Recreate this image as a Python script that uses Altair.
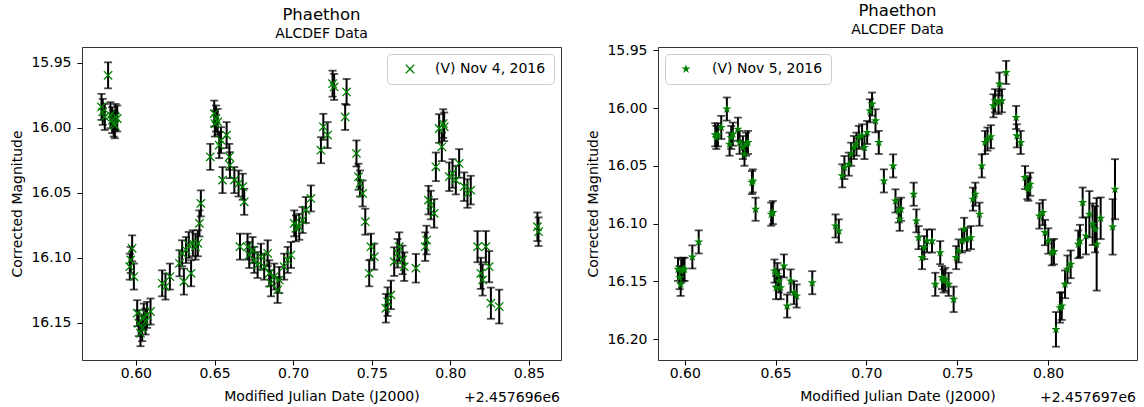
import altair as alt
import pandas as pd

# ---------------- data ----------------
# Left panel: Nov 4, 2016  (JD - 2457696)
jd_nov4 = [0.5823, 0.5781, 0.5789, 0.5802, 0.5838, 0.5849, 0.5859, 0.5870, 0.5881, 0.5866,
           0.5976, 0.5961, 0.5987, 0.5967, 0.6008, 0.6018, 0.6029, 0.6050, 0.6061, 0.6071,
           0.6093, 0.6040, 0.6167, 0.6188, 0.6216, 0.6277, 0.6294, 0.6305, 0.6319, 0.6336,
           0.6351, 0.6362, 0.6379, 0.6394, 0.6404, 0.6413, 0.6473, 0.6498, 0.6509, 0.6520,
           0.6502, 0.6530, 0.6541, 0.6551, 0.6577, 0.6594, 0.6598, 0.6626, 0.6653, 0.6679,
           0.6689, 0.6662, 0.6710, 0.6721, 0.6742, 0.6753, 0.6774, 0.6795, 0.6816, 0.6838,
           0.6848, 0.6859, 0.6880, 0.6901, 0.6912, 0.6943, 0.6965, 0.6986, 0.7007, 0.7018,
           0.7039, 0.7060, 0.7081, 0.7113, 0.7177, 0.7192, 0.7219, 0.7251, 0.7261, 0.7340,
           0.7331, 0.7403, 0.7416, 0.7425, 0.7442, 0.7459, 0.7495, 0.7516, 0.7484, 0.7590,
           0.7601, 0.7622, 0.7643, 0.7664, 0.7675, 0.7696, 0.7707, 0.7781, 0.7840, 0.7849,
           0.7861, 0.7876, 0.7897, 0.7908, 0.7929, 0.7946, 0.7955, 0.7961, 0.7993, 0.8014,
           0.8035, 0.8056, 0.8088, 0.8109, 0.8130, 0.8173, 0.8226, 0.8247, 0.8194, 0.8205,
           0.8258, 0.8311, 0.8554, 0.8561]
mag_nov4 = [15.9595, 15.9838, 15.9876, 15.9915, 15.9902, 15.9940, 15.9966, 15.9915, 15.9927, 15.9979,
            16.0926, 16.1067, 16.1143, 16.1015, 16.1425, 16.1502, 16.1579, 16.1451, 16.1489, 16.1438,
            16.1412, 16.1540, 16.1195, 16.1220, 16.1143, 16.1041, 16.0964, 16.1182, 16.0939, 16.0900,
            16.1118, 16.0887, 16.0913, 16.0887, 16.0734, 16.0580, 16.0222, 15.9889, 15.9927, 15.9953,
            15.9966, 16.0132, 16.0094, 16.0401, 16.0055, 16.0222, 16.0286, 16.0401, 16.0427, 16.0452,
            16.0568, 16.0913, 16.0913, 16.0977, 16.0939, 16.1015, 16.1054, 16.0990, 16.1067, 16.0964,
            16.1118, 16.1195, 16.1143, 16.1246, 16.1169, 16.1067, 16.1015, 16.0977, 16.0734, 16.0772,
            16.0760, 16.0708, 16.0631, 16.0542, 16.0171, 15.9991, 16.0055, 15.9659, 15.9684, 15.9723,
            15.9915, 16.0196, 16.0375, 16.0427, 16.0504, 16.0721, 16.0913, 16.0990, 16.1118, 16.1387,
            16.1336, 16.1284, 16.1028, 16.0964, 16.0913, 16.1015, 16.1067, 16.1079, 16.0913, 16.0862,
            16.0555, 16.0593, 16.0657, 16.0299, 16.0004, 16.0145, 15.9966, 15.9991, 16.0375, 16.0350,
            16.0401, 16.0273, 16.0452, 16.0504, 16.0478, 16.0913, 16.0913, 16.1067, 16.1118, 16.1169,
            16.1348, 16.1374, 16.0760, 16.0798]
err_nov4 = [0.010, 0.010, 0.010, 0.010, 0.010, 0.010, 0.010, 0.010, 0.010, 0.010,
            0.010, 0.010, 0.010, 0.010, 0.010, 0.010, 0.010, 0.010, 0.010, 0.010,
            0.010, 0.010, 0.010, 0.010, 0.010, 0.010, 0.010, 0.010, 0.010, 0.010,
            0.010, 0.010, 0.010, 0.010, 0.010, 0.010, 0.010, 0.010, 0.010, 0.010,
            0.010, 0.010, 0.010, 0.010, 0.010, 0.010, 0.010, 0.010, 0.010, 0.010,
            0.010, 0.010, 0.010, 0.010, 0.010, 0.010, 0.010, 0.010, 0.010, 0.010,
            0.010, 0.010, 0.010, 0.010, 0.010, 0.010, 0.010, 0.010, 0.010, 0.010,
            0.010, 0.010, 0.010, 0.010, 0.010, 0.010, 0.010, 0.010, 0.010, 0.010,
            0.010, 0.010, 0.010, 0.010, 0.010, 0.010, 0.010, 0.010, 0.010, 0.011,
            0.011, 0.011, 0.011, 0.011, 0.011, 0.011, 0.011, 0.011, 0.011, 0.011,
            0.011, 0.011, 0.011, 0.011, 0.011, 0.011, 0.011, 0.011, 0.011, 0.011,
            0.011, 0.011, 0.011, 0.011, 0.011, 0.012, 0.012, 0.012, 0.012, 0.012,
            0.012, 0.013, 0.011, 0.011]

# Right panel: Nov 5, 2016  (JD - 2457697)
jd_nov5 = [0.5963, 0.5972, 0.5981, 0.5990, 0.5999, 0.5978, 0.6042, 0.6077, 0.6168, 0.6174,
           0.6183, 0.6201, 0.6232, 0.6247, 0.6256, 0.6265, 0.6293, 0.6302, 0.6320, 0.6329,
           0.6338, 0.6348, 0.6370, 0.6375, 0.6390, 0.6476, 0.6485, 0.6494, 0.6503, 0.6510,
           0.6518, 0.6528, 0.6546, 0.6564, 0.6583, 0.6601, 0.6616, 0.6702, 0.6830, 0.6848,
           0.6867, 0.6879, 0.6903, 0.6916, 0.6931, 0.6945, 0.6958, 0.6976, 0.6989, 0.7004,
           0.7019, 0.7031, 0.7050, 0.7068, 0.7096, 0.7147, 0.7160, 0.7177, 0.7190, 0.7183,
           0.7260, 0.7275, 0.7287, 0.7306, 0.7318, 0.7333, 0.7361, 0.7379, 0.7406, 0.7416,
           0.7425, 0.7434, 0.7452, 0.7480, 0.7494, 0.7507, 0.7526, 0.7538, 0.7553, 0.7575,
           0.7586, 0.7599, 0.7622, 0.7635, 0.7653, 0.7666, 0.7685, 0.7699, 0.7708, 0.7727,
           0.7732, 0.7745, 0.7769, 0.7824, 0.7828, 0.7849, 0.7873, 0.7886, 0.7901, 0.7891,
           0.7952, 0.7970, 0.7983, 0.8001, 0.8020, 0.8032, 0.8043, 0.8065, 0.8075, 0.8093,
           0.8106, 0.8124, 0.8166, 0.8175, 0.8190, 0.8208, 0.8227, 0.8245, 0.8258, 0.8267,
           0.8289, 0.8355, 0.8368]
mag_nov5 = [16.1395, 16.1467, 16.1410, 16.1395, 16.1395, 16.1525, 16.1288, 16.1158, 16.0231, 16.0254,
            16.0231, 16.0167, 16.0008, 16.0312, 16.0254, 16.0225, 16.0182, 16.0297, 16.0341, 16.0399,
            16.0312, 16.0297, 16.0644, 16.0630, 16.0875, 16.0918, 16.0904, 16.1410, 16.1554, 16.1440,
            16.1496, 16.1554, 16.1366, 16.1713, 16.1496, 16.1597, 16.1626, 16.1511, 16.1020, 16.1063,
            16.0586, 16.0514, 16.0485, 16.0399, 16.0341, 16.0312, 16.0254, 16.0240, 16.0341, 16.0211,
            16.0023, 15.9965, 16.0110, 16.0297, 16.0630, 16.0500, 16.0803, 16.0890, 16.0875, 16.0962,
            16.0745, 16.0976, 16.1121, 16.1294, 16.1207, 16.1150, 16.1150, 16.1525, 16.1251, 16.1467,
            16.1496, 16.1482, 16.1525, 16.1655, 16.1294, 16.1236, 16.1150, 16.1049, 16.1135, 16.1121,
            16.0788, 16.0745, 16.0918, 16.0500, 16.0297, 16.0268, 16.0248, 15.9980, 15.9936, 15.9951,
            15.9792, 15.9936, 15.9691, 16.0081, 16.0240, 16.0297, 16.0601, 16.0688, 16.0659, 16.0702,
            16.0933, 16.0904, 16.1077, 16.1150, 16.1251, 16.1242, 16.1915, 16.1727, 16.1713, 16.1525,
            16.1395, 16.1352, 16.1179, 16.1150, 16.0817, 16.1106, 16.0918, 16.1005, 16.1049, 16.1179,
            16.0953, 16.1028, 16.0702]
err_nov5 = [0.010, 0.010, 0.010, 0.010, 0.010, 0.010, 0.010, 0.010, 0.010, 0.010,
            0.010, 0.010, 0.010, 0.010, 0.010, 0.010, 0.010, 0.010, 0.010, 0.010,
            0.010, 0.010, 0.010, 0.010, 0.010, 0.010, 0.010, 0.010, 0.010, 0.010,
            0.010, 0.010, 0.010, 0.010, 0.010, 0.010, 0.010, 0.010, 0.010, 0.010,
            0.010, 0.010, 0.010, 0.010, 0.010, 0.010, 0.010, 0.010, 0.010, 0.010,
            0.010, 0.010, 0.010, 0.010, 0.010, 0.010, 0.010, 0.010, 0.010, 0.010,
            0.010, 0.010, 0.010, 0.010, 0.010, 0.010, 0.010, 0.010, 0.010, 0.010,
            0.010, 0.010, 0.010, 0.011, 0.010, 0.010, 0.010, 0.010, 0.010, 0.010,
            0.010, 0.010, 0.010, 0.010, 0.010, 0.010, 0.010, 0.010, 0.010, 0.010,
            0.010, 0.010, 0.010, 0.010, 0.010, 0.010, 0.010, 0.010, 0.010, 0.010,
            0.011, 0.011, 0.011, 0.011, 0.011, 0.011, 0.015, 0.013, 0.012, 0.012,
            0.012, 0.012, 0.012, 0.014, 0.013, 0.016, 0.020, 0.018, 0.020, 0.040,
            0.018, 0.024, 0.026]

LABEL_L = "(V) Nov 4, 2016"
LABEL_R = "(V) Nov 5, 2016"
OFFSET_L = "+2.457696e6"
OFFSET_R = "+2.457697e6"

X_PATH = "M-1,-1L1,1M-1,1L1,-1"
STAR_PATH = ("M0,-1L0.2245,-0.309L0.951,-0.309L0.363,0.118L0.588,0.809L0,0.382"
             "L-0.588,0.809L-0.363,0.118L-0.951,-0.309L-0.2245,-0.309Z")

W, H = 479, 313
GREEN = "#008000"
FONT = "DejaVu Sans"
FS = 14


def panel(jd, mag, err, label, offset_text, xdom, xticks, ydom, yticks,
          shape, filled, msize, legend_orient, sym_off, lab_off):
    df = pd.DataFrame({"jd": jd, "mag": mag, "err": err})
    df["lo"] = df["mag"] - df["err"]
    df["hi"] = df["mag"] + df["err"]
    df["series"] = label
    base = alt.Chart(df)

    xenc = alt.X("jd:Q", title="Modified Julian Date (J2000)",
                 scale=alt.Scale(domain=xdom, nice=False, zero=False),
                 axis=alt.Axis(values=xticks, format=".2f", labelPadding=1,
                               titlePadding=9))

    def yenc(field):
        return alt.Y(field, title="Corrected Magnitude",
                     scale=alt.Scale(domain=ydom, reverse=True, nice=False, zero=False),
                     axis=alt.Axis(values=yticks, format=".2f", labelPadding=6,
                                   titlePadding=6))

    bars = base.mark_rule(color="black", strokeWidth=2).encode(
        x=xenc, y=yenc("lo:Q"), y2="hi:Q")
    cap_lo = base.mark_tick(color="black", thickness=1.8, size=8, orient="horizontal").encode(
        x=xenc, y=yenc("lo:Q"))
    cap_hi = base.mark_tick(color="black", thickness=1.8, size=8, orient="horizontal").encode(
        x=xenc, y=yenc("hi:Q"))
    pts = base.mark_point(shape=shape, size=msize, filled=filled, strokeWidth=1.3,
                          opacity=1).encode(
        x=xenc, y=yenc("mag:Q"),
        color=alt.Color("series:N",
                        scale=alt.Scale(domain=[label], range=[GREEN]),
                        legend=alt.Legend(title=None, orient=legend_orient, offset=7,
                                          fillColor="white", strokeColor="#cccccc",
                                          cornerRadius=4, padding=8,
                                          symbolType=shape, symbolSize=msize,
                                          symbolStrokeWidth=1.3, symbolOffset=sym_off,
                                          labelOffset=lab_off, labelFontSize=FS,
                                          labelFont=FONT, labelColor="black")))
    off = alt.Chart(pd.DataFrame({"t": [offset_text]})).mark_text(
        align="right", baseline="middle", fontSize=FS, font=FONT, color="black"
    ).encode(text="t:N", x=alt.value(W - 1), y=alt.value(H + 38))

    return alt.layer(bars, cap_lo, cap_hi, pts, off).properties(
        width=W, height=H,
        title=alt.Title("Phaethon", subtitle="ALCDEF Data"))


left = panel(jd_nov4, mag_nov4, err_nov4, LABEL_L, OFFSET_L,
             [0.5657, 0.8704], [0.60, 0.65, 0.70, 0.75, 0.80, 0.85],
             [15.9377, 16.1785], [15.95, 16.00, 16.05, 16.10, 16.15],
             X_PATH, False, 70, "top-right", 8, 18)
right = panel(jd_nov5, mag_nov5, err_nov5, LABEL_R, OFFSET_R,
              [0.5853, 0.8489], [0.60, 0.65, 0.70, 0.75, 0.80],
              [15.9471, 16.2180], [15.95, 16.00, 16.05, 16.10, 16.15, 16.20],
              STAR_PATH, True, 95, "top-left", 6, 19)

chart = alt.hconcat(left, right, spacing=97, bounds="flush").resolve_scale(
    color="independent", x="independent", y="independent"
).resolve_legend(color="independent").properties(
    padding={"left": 10, "top": 2, "right": 6, "bottom": 5}
).configure_view(
    stroke="#333333", strokeWidth=1
).configure_axis(
    domain=False, grid=False, ticks=True, tickColor="black", tickSize=5, tickWidth=1,
    labelFont=FONT, labelFontSize=FS, labelColor="black",
    titleFont=FONT, titleFontSize=FS, titleFontWeight="normal", titleColor="black"
).configure_title(
    font=FONT, fontSize=16.5, fontWeight="normal", color="black",
    subtitleFont=FONT, subtitleFontSize=FS, subtitleColor="black",
    anchor="middle", offset=6, subtitlePadding=4
)

chart.save("out.html", embed_options={"renderer": "svg", "actions": False})
